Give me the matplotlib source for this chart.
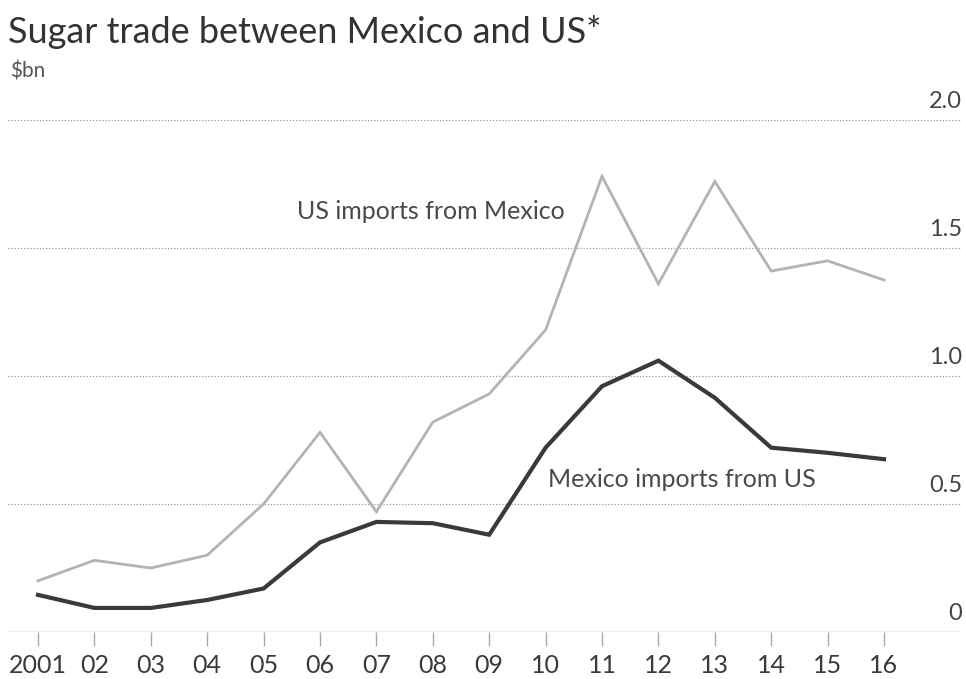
import matplotlib
matplotlib.use('Agg')
from matplotlib import pyplot as plt
from matplotlib import transforms
import numpy as np

years = np.arange(2001, 2017)
year_labels = ['2001', '02', '03', '04', '05', '06', '07', '08', '09',
               '10', '11', '12', '13', '14', '15', '16']
us_imports = [0.20, 0.28, 0.25, 0.30, 0.50, 0.78, 0.47, 0.82, 0.93,
              1.18, 1.78, 1.36, 1.76, 1.41, 1.45, 1.375]
mex_imports = [0.145, 0.094, 0.094, 0.125, 0.17, 0.35, 0.43, 0.425, 0.38,
               0.72, 0.96, 1.06, 0.915, 0.72, 0.70, 0.675]
y_ticks = [0, 0.5, 1.0, 1.5, 2.0]
y_labels = ['0', '0.5', '1.0', '1.5', '2.0']

plt.rcParams['font.family'] = ['Lato', 'DejaVu Sans']

W, H = 966, 679
fig = plt.figure(figsize=(W / 100, H / 100), dpi=100)
ax = fig.add_axes([8 / W, (H - 632) / H, (962 - 8) / W, (632 - 120) / H])

# gridlines
for v in y_ticks[1:]:
    ax.axhline(v, color='#9a9a9a', lw=0.9, ls=(0, (1, 1.5)), zorder=1)
ax.axhline(0, color='#555555', lw=1.0, ls=(0, (1, 1)), zorder=1)

ax.plot(years, us_imports, color='#b3b3b3', lw=2.0, zorder=3, solid_joinstyle='miter')
ax.plot(years, mex_imports, color='#3a3a3a', lw=3.0, zorder=4, solid_joinstyle='miter')

ax.set_xlim(2001 - 0.532, 2016 + 1.383)
ax.set_ylim(0, 2.0)

for s in ax.spines.values():
    s.set_visible(False)

ax.set_xticks(years)
ax.set_xticklabels(year_labels, fontsize=18, color='#3a3a3a')
ax.tick_params(axis='x', length=10, width=1, color='#aaaaaa', pad=6)
ax.set_yticks([])

trans = transforms.blended_transform_factory(ax.transAxes, ax.transData)
for v, lab in zip(y_ticks, y_labels):
    ax.text(1.0, v + 0.03, lab, transform=trans, ha='right', va='bottom',
            fontsize=17, color='#444444')

ax.text(2005.6, 1.615, 'US imports from Mexico', fontsize=18, color='#4a4a4a',
        va='baseline', ha='left')
ax.text(2010.05, 0.565, 'Mexico imports from US', fontsize=18, color='#4a4a4a',
        va='baseline', ha='left')

fig.text(8 / W, (H - 43) / H, 'Sugar trade between Mexico and US*', fontsize=26,
         color='#333333', va='baseline', ha='left')
fig.text(10 / W, (H - 77) / H, '$bn', fontsize=15, color='#555555',
         va='baseline', ha='left')

fig.savefig('out.png', dpi=100)
